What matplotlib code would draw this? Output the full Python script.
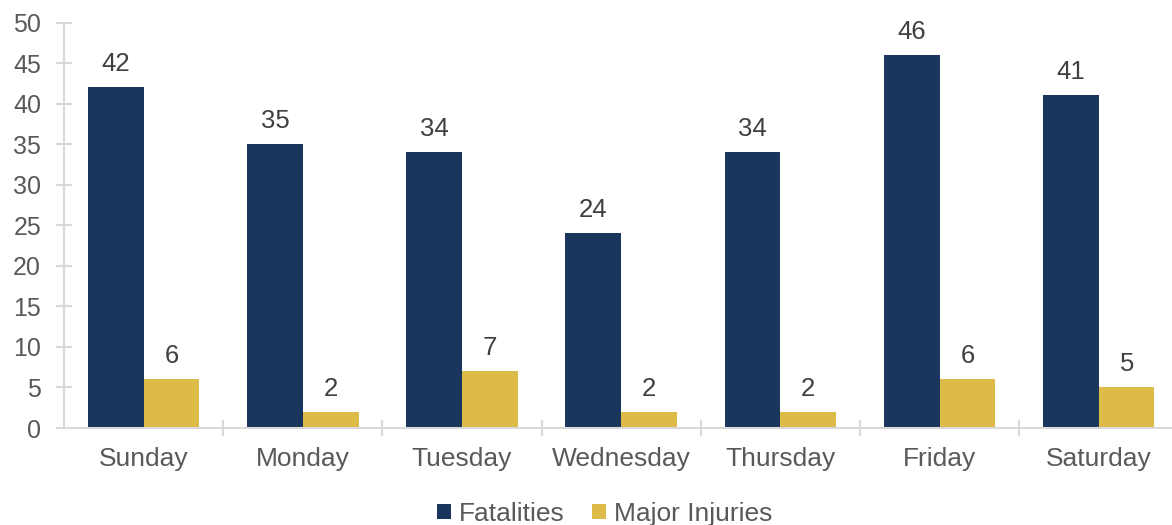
import numpy as np
import matplotlib.pyplot as plt

plt.rcParams["font.family"] = ["Liberation Sans", "DejaVu Sans"]

days = ["Sunday", "Monday", "Tuesday", "Wednesday", "Thursday", "Friday", "Saturday"]
fatalities = [42, 35, 34, 24, 34, 46, 41]
major_injuries = [6, 2, 7, 2, 2, 6, 5]

navy = "#1A365D"
gold = "#DDBB48"
grey_text = "#595959"
axis_grey = "#D9D9D9"

fig = plt.figure(figsize=(11.72, 5.25), dpi=100)
ax = fig.add_axes([64 / 1172, 97 / 525, 1 - 64 / 1172, (428 - 22.5) / 525])

x = np.arange(len(days))
w = 0.35
b1 = ax.bar(x - w / 2, fatalities, w, color=navy, label="Fatalities")
b2 = ax.bar(x + w / 2, major_injuries, w, color=gold, label="Major Injuries")

for bars in (b1, b2):
    for rect in bars:
        h = rect.get_height()
        ax.annotate(f"{h:g}", (rect.get_x() + rect.get_width() / 2, h),
                    xytext=(0, 8), textcoords="offset points",
                    ha="center", va="bottom", fontsize=18.5, color="#404040")

ax.set_ylim(0, 50)
ax.set_yticks(range(0, 51, 5))
ax.set_xlim(-0.5, 6.46)
ax.set_xticks(x)
ax.set_xticklabels(days)
ax.set_xticks(np.arange(0.5, 6.5, 1), minor=True)

for s in ("top", "right"):
    ax.spines[s].set_visible(False)
for s in ("left", "bottom"):
    ax.spines[s].set_color(axis_grey)
    ax.spines[s].set_linewidth(1.5)

ax.tick_params(axis="y", direction="inout", length=11, width=1.5, color=axis_grey,
               labelsize=18, labelcolor=grey_text, pad=11)
ax.tick_params(axis="x", which="major", length=0, labelsize=19,
               labelcolor=grey_text, pad=14)
ax.tick_params(axis="x", which="minor", direction="inout", length=11, width=1.5,
               color=axis_grey)

ax.legend(loc="lower center", bbox_to_anchor=(0.488, -0.268), ncol=2, frameon=False,
          fontsize=19, labelcolor=grey_text, handlelength=0.52, handleheight=0.52,
          handletextpad=0.3, columnspacing=1.05, borderaxespad=0)

fig.savefig("out.png", dpi=100)
